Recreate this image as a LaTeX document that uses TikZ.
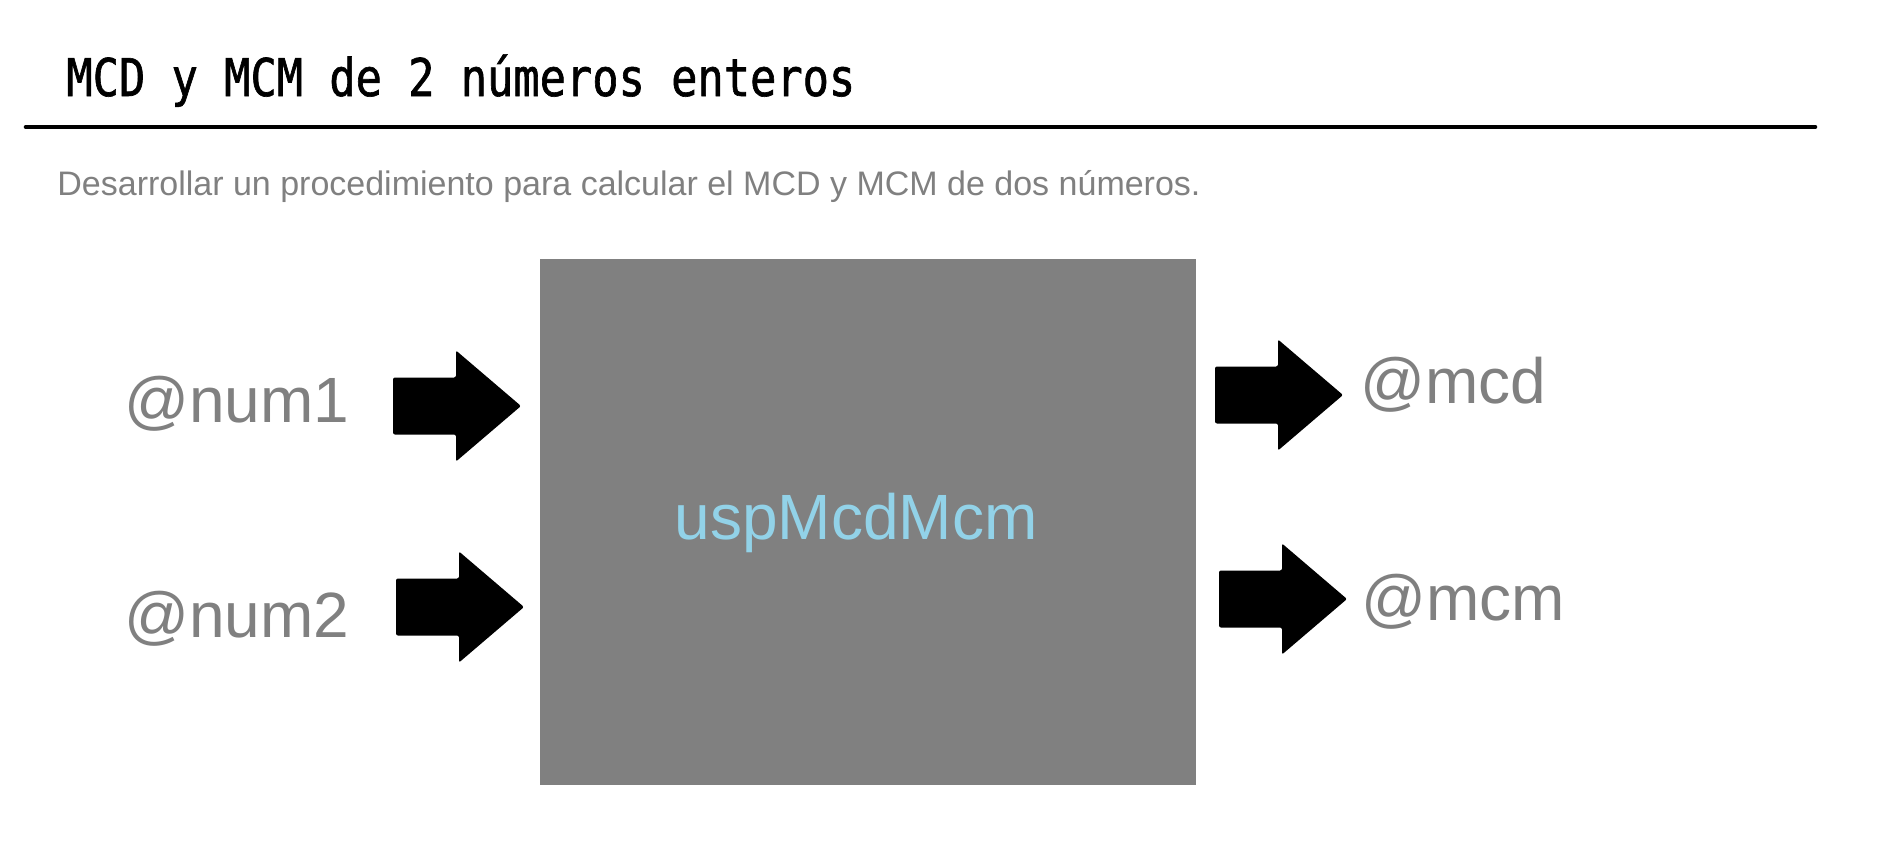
\documentclass[tikz,border=0pt]{standalone}
\usepackage{fontspec}
\setmainfont{Liberation Sans}
\newfontfamily\titlefont[FakeStretch=0.84,FakeBold=1.2]{DejaVu Sans Mono}
\definecolor{lblgray}{RGB}{128,128,128}
\definecolor{boxgray}{RGB}{128,128,128}
\definecolor{skyb}{RGB}{146,210,232}
\tikzset{
  txt/.style={inner sep=0pt, anchor=base west},
  lbl/.style={txt, text=lblgray, font=\fontsize{32pt}{36pt}\selectfont},
  bigarrow/.pic={
    \fill[black, rounded corners=1pt]
      (-128,-28.5) -- (-65,-28.5) -- (-65,-55.5) -- (0,0) -- (-65,55.5)
      -- (-65,28.5) -- (-128,28.5) -- cycle;
  }
}
\begin{document}
\begin{tikzpicture}[x=0.5pt,y=-0.5pt]
\useasboundingbox (0,0) rectangle (1890,846);
% title
\node[txt, font=\titlefont\fontsize{26pt}{30pt}\selectfont] (title) at (66,96) {MCD y MCM de 2 números enteros};
\coordinate (rl) at (26,127);
\coordinate (rr) at (1815,127);
\draw[line width=2.3pt, line cap=round] (rl) -- (rr);
\node[txt, text=lblgray, font=\fontsize{17pt}{20pt}\selectfont] (sub) at (57,195) {Desarrollar un procedimiento para calcular el MCD y MCM de dos números.};
% box
\node[fill=boxgray, inner sep=0pt, minimum width=328pt, minimum height=263pt] (box) at (868,522) {};
\node[inner sep=0pt, anchor=base, text=skyb, font=\fontsize{32pt}{36pt}\selectfont] (name) at (856,539) {uspMcdMcm};
% labels
\node[lbl] (num1) at (124,422) {@num1};
\node[lbl] (num2) at (124,637) {@num2};
\node[lbl] (mcd) at (1360,403) {@mcd};
\node[lbl] (mcm) at (1361,620) {@mcm};
% arrows
\pic (a1) at (521,406) {bigarrow};
\pic (a2) at (524,607) {bigarrow};
\pic (a3) at (1343,395) {bigarrow};
\pic (a4) at (1347,599) {bigarrow};
\end{tikzpicture}
\end{document}
